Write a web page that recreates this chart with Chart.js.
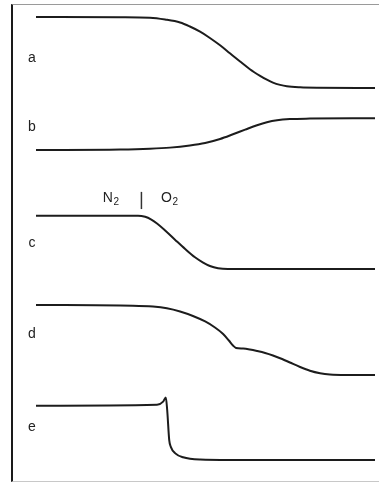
<!DOCTYPE html>
<html lang="en">
<head>
    <meta charset="UTF-8">
    <title>Gas switch response traces</title>
    <script src="https://cdn.jsdelivr.net/npm/chart.js"></script>
    <style>
        html, body { margin: 0; padding: 0; background: #fff; }
        .frame {
            position: absolute;
            left: 11px;
            top: 4px;
            width: 368px;
            height: 478px;
            box-sizing: border-box;
            border-left: 2px solid #1a1a1a;
            border-top: 1px solid #9a9a9a;
            border-bottom: 1px solid #c8c8c8;
        }
        canvas { position: absolute; left: 0; top: 0; }
    </style>
</head>
<body>
    <div class="frame"></div>
    <canvas id="traces" width="379" height="484"></canvas>

    <script>
        // time axis runs 0..100, each trace sits on its own level of the shared y scale
        const traceNames = ['a', 'b', 'c', 'd', 'e'];

        const timeA = [0, 24.8, 33.6, 38.1, 42.5, 45.4, 48.4, 51.3, 54.3, 57.2, 60.2, 63.1, 66.1, 68.1, 69.9, 72.0, 74.0, 77.9, 82.9, 100];
        const traceA = [98.5, 98.45, 98.34, 97.95, 97.31, 96.44, 95.32, 93.97, 92.39, 90.67, 88.9, 87.24, 85.82, 84.98, 84.35, 83.86, 83.56, 83.34, 83.25, 83.2];

        const timeB = [0, 24.8, 33.6, 39.5, 45.4, 49.9, 54.3, 58.1, 61.7, 65.2, 68.1, 71.1, 74.9, 80.8, 100];
        const traceB = [69.83, 69.94, 70.11, 70.34, 70.80, 71.34, 72.20, 73.21, 74.22, 75.17, 75.82, 76.25, 76.49, 76.59, 76.66];

        const timeC = [0, 30.1, 32.2, 33.9, 35.7, 38.1, 41.0, 44.0, 46.9, 49.3, 51.3, 53.7, 56.6, 100];
        const traceC = [55.67, 55.67, 55.43, 54.89, 53.99, 52.48, 50.50, 48.49, 46.70, 45.56, 44.83, 44.35, 44.18, 44.18];

        const timeD = [0, 28.6, 34.5, 38.6, 42.5, 46.3, 49.9, 52.8, 55.2, 56.9, 58.1, 59.0, 61.1, 63.1, 65.2, 67.6, 69.9, 72.6, 74.9, 77.9, 80.8, 83.8, 86.7, 91.2, 100];
        const traceD = [36.42, 36.27, 36.08, 35.71, 35.02, 34.05, 32.87, 31.57, 30.17, 28.77, 27.69, 27.16, 27.03, 26.83, 26.51, 26.08, 25.54, 24.78, 24.03, 23.06, 22.26, 21.72, 21.44, 21.34, 21.34];

        const timeE = [0, 35.7, 37.5, 38.3, 38.7, 39.3, 39.8, 41.0, 43.4, 48.4, 57.2, 100];
        const traceE = [14.7, 14.9, 15.6, 16.5, 13.8, 7.3, 5.8, 4.5, 3.6, 3.1, 3.0, 3.0];

        // where each letter sits next to its trace
        const labelLevels = [89.7, 74.8, 49.8, 30.2, 10.1];
        const labelTime = -1.2;

        // N2 -> O2 switch marker above trace c
        const switchTime = 31.1;
        const switchRange = [57.1, 60.8];
        const gasLabels = [['N', '2', 19.7], ['O', '2', 36.9]];
        const gasLabelLevel = 58.6;

        const times = [timeA, timeB, timeC, timeD, timeE];
        const traces = [traceA, traceB, traceC, traceD, traceE];

        const datasets = traces.map((vals, i) => ({
            label: traceNames[i],
            data: vals.map((v, k) => ({ x: times[i][k], y: v })),
            borderColor: '#1c1c1c',
            borderWidth: 2,
            pointRadius: 0,
            fill: false,
            cubicInterpolationMode: 'monotone'
        }));

        datasets.push({
            label: 'switch',
            data: switchRange.map(v => ({ x: switchTime, y: v })),
            borderColor: '#333',
            borderWidth: 1.5,
            pointRadius: 0
        });

        const textPlugin = {
            id: 'traceText',
            afterDatasetsDraw(chart) {
                const { ctx, scales } = chart;
                const xs = scales.x, ys = scales.y;
                ctx.save();
                ctx.fillStyle = '#222';
                ctx.font = '14px "Liberation Sans", Arial, sans-serif';
                ctx.textAlign = 'center';
                ctx.textBaseline = 'middle';
                traceNames.forEach((name, i) => {
                    ctx.fillText(name, xs.getPixelForValue(labelTime), ys.getPixelForValue(labelLevels[i]));
                });

                ctx.textAlign = 'left';
                ctx.textBaseline = 'alphabetic';
                gasLabels.forEach(([sym, sub, t]) => {
                    const px = xs.getPixelForValue(t);
                    const py = ys.getPixelForValue(gasLabelLevel);
                    ctx.font = '14px "Liberation Sans", Arial, sans-serif';
                    ctx.fillText(sym, px, py);
                    const w = ctx.measureText(sym).width;
                    ctx.font = '10px "Liberation Sans", Arial, sans-serif';
                    ctx.fillText(sub, px + w + 0.5, py + 3);
                });
                ctx.restore();
            }
        };

        new Chart(document.getElementById('traces'), {
            type: 'line',
            data: { datasets },
            options: {
                responsive: false,
                animation: false,
                layout: { padding: { left: 36, right: 4, top: 10, bottom: 10 } },
                plugins: {
                    legend: { display: false },
                    tooltip: { enabled: false }
                },
                scales: {
                    x: { type: 'linear', min: 0, max: 100, display: false },
                    y: { type: 'linear', min: 0, max: 100, display: false }
                }
            },
            plugins: [textPlugin]
        });
    </script>
</body>
</html>
